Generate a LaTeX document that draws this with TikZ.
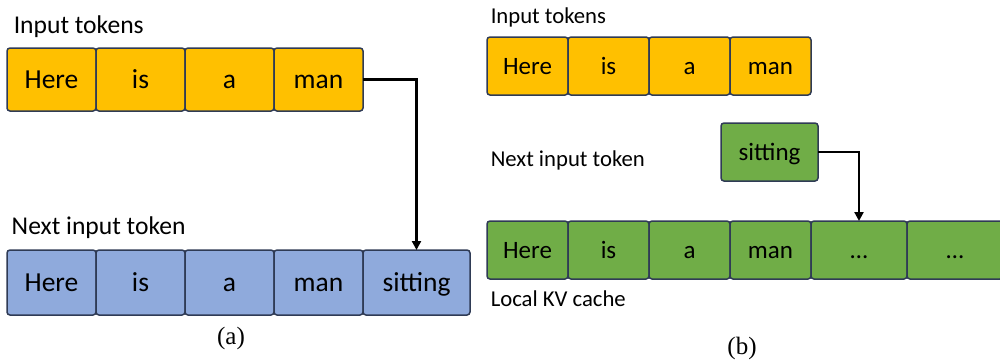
\documentclass[tikz,border=0pt]{standalone}
\usepackage{fontspec}
\setmainfont{Carlito}
\newfontfamily\capfont{Liberation Serif}
\usetikzlibrary{arrows.meta, positioning}

\definecolor{tokyellow}{HTML}{FFC000}
\definecolor{tokblue}{HTML}{8FAADC}
\definecolor{tokgreen}{HTML}{70AD47}
\definecolor{tokedge}{HTML}{2F3B55}

\begin{document}
\begin{tikzpicture}[
        x = 1pt, y = -1pt, % pixel grid, y pointing down
        > = {Triangle[length=9pt, width=9pt]}, % arrow head style
        line width = 1.5pt,
        node distance = 0pt, % boxes touch each other
        auto
      ]

      \tikzstyle{token}=[rectangle, rounded corners=3pt, draw=tokedge, outer sep=0pt,
        inner sep=0pt, text depth=0pt]
      \tikzstyle{tokA}=[token, minimum width=89pt, minimum height=63pt, text height=17.7pt,
        font=\fontsize{27.5}{32}\selectfont]
      \tikzstyle{tokB}=[token, minimum width=81pt, minimum height=58pt, text height=16.1pt,
        font=\fontsize{25}{30}\selectfont]
      \tikzstyle{label}=[anchor=base west, inner sep=0pt]
      \tikzstyle{link}=[->, line width=2.2pt, black]

      \useasboundingbox (0,0) rectangle (1000,360);

      % (a) full recomputation
      \node[label, font=\fontsize{25.6}{30}\selectfont] (ain) at (13,33) {Input tokens};
      \node[tokA, fill=tokyellow] (ahere) at (51.5,79.5) {Here};
      \node[tokA, fill=tokyellow] (ais) [right=of ahere] {is};
      \node[tokA, fill=tokyellow] (aa) [right=of ais] {a};
      \node[tokA, fill=tokyellow] (aman) [right=of aa] {man};

      \node[label, font=\fontsize{25.6}{30}\selectfont] (anext) at (11,234) {Next input token};
      \node[tokA, fill=tokblue, minimum height=65pt] (bhere) at (51.5,282.5) {Here};
      \node[tokA, fill=tokblue, minimum height=65pt] (bis) [right=of bhere] {is};
      \node[tokA, fill=tokblue, minimum height=65pt] (ba) [right=of bis] {a};
      \node[tokA, fill=tokblue, minimum height=65pt] (bman) [right=of ba] {man};
      \node[tokA, fill=tokblue, minimum height=65pt, minimum width=107pt] (bsit) [right=of bman] {sitting};

      \draw[link] (aman.east) -| (bsit.north);

      \node[font=\capfont\fontsize{25}{30}\selectfont] (capa) at (231,338) {(a)};

      % (b) local KV cache
      \node[label, font=\fontsize{22.7}{27}\selectfont] (bin) at (490,23) {Input tokens};
      \node[tokB, fill=tokyellow] (chere) at (527.5,66) {Here};
      \node[tokB, fill=tokyellow] (cis) [right=of chere] {is};
      \node[tokB, fill=tokyellow] (ca) [right=of cis] {a};
      \node[tokB, fill=tokyellow] (cman) [right=of ca] {man};

      \node[label, font=\fontsize{22.7}{27}\selectfont] (bnext) at (490,166) {Next input token};
      \node[tokB, fill=tokgreen, minimum width=97pt] (csit) at (769.5,152) {sitting};

      \node[tokB, fill=tokgreen] (khere) at (527.5,250) {Here};
      \node[tokB, fill=tokgreen] (kis) [right=of khere] {is};
      \node[tokB, fill=tokgreen] (ka) [right=of kis] {a};
      \node[tokB, fill=tokgreen] (kman) [right=of ka] {man};
      \node[tokB, fill=tokgreen, minimum width=96pt] (kdotsa) [right=of kman] {…};
      \node[tokB, fill=tokgreen, minimum width=96pt] (kdotsb) [right=of kdotsa] {…};
      \node[label, font=\fontsize{22.7}{27}\selectfont] (bkv) at (490,306) {Local KV cache};

      \draw[link] (csit.east) -| (kdotsa.north);

      \node[font=\capfont\fontsize{25}{30}\selectfont] (capb) at (742,348) {(b)};

    \end{tikzpicture}
\end{document}
